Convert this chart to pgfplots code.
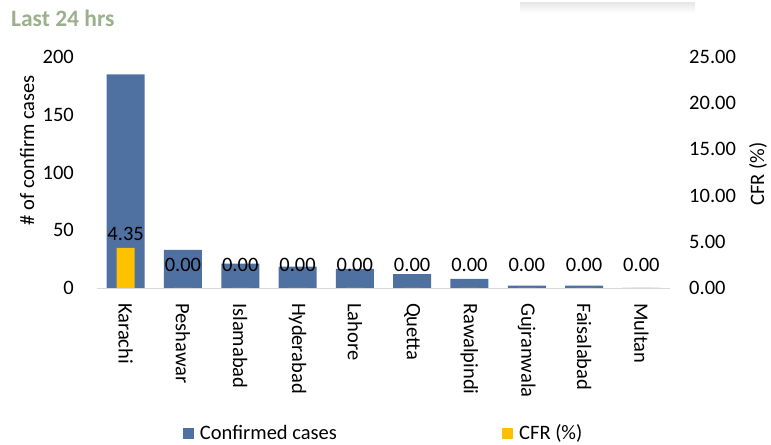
\documentclass[border=0pt]{standalone}
\usepackage{pgfplots}
\pgfplotsset{compat=1.18}
\usepackage{fontspec}
\setmainfont{Carlito}
\definecolor{barblue}{RGB}{79,113,161}
\definecolor{cfrorange}{RGB}{255,192,0}
\definecolor{titlegreen}{RGB}{155,176,140}
\definecolor{axisgray}{RGB}{217,217,217}
\newcommand{\fs}{\fontsize{20.5bp}{24bp}\selectfont}
\pgfplotsset{
  /pgf/number format/assume math mode=true,
  base/.style={
    at={(97bp,157bp)}, anchor=south west,
    scale only axis, width=573bp, height=231bp,
    xmin=-0.5, xmax=9.5, ymin=0,
    tick style={draw=none},
    ticklabel style={font=\fs, inner sep=0pt},
    label style={font=\fs},
    legend style={draw=none, fill=none, inner sep=1pt, font=\fs, legend cell align=left},
  },
}
\begin{document}
\begin{tikzpicture}[x=1bp,y=1bp]
\useasboundingbox (0,0) rectangle (771,445);
\shade[top color=black!9, bottom color=white] (520,442) rectangle (695,432);
\node[anchor=west, font=\fontsize{23.5bp}{27bp}\selectfont\bfseries, text=titlegreen, inner sep=0pt] at (11,427) {Last 24 hrs};

\begin{axis}[base,
  ymax=200, ytick={0,50,...,200},
  xtick={0,...,9},
  xticklabels={Karachi,Peshawar,Islamabad,Hyderabad,Lahore,Quetta,Rawalpindi,Gujranwala,Faisalabad,Multan},
  xticklabel style={rotate=-90, anchor=west},
  xticklabel shift=15bp,
  yticklabel shift=23bp,
  axis x line*=bottom, axis y line*=left,
  x axis line style={draw=axisgray, line width=0.8bp, -},
  y axis line style={draw=none},
  ylabel={\# of confirm cases},
  every axis y label/.style={at={(axis description cs:-0.122,0.597)}, rotate=90, anchor=center, font=\fs},
  legend style={at={(axis description cs:0.148,-0.628)}, anchor=west},
]
\addplot[ybar, bar width=38bp, bar shift=0pt, fill=barblue, draw=none,
  legend image code/.code={\fill[barblue] (0bp,-5.5bp) rectangle (11bp,5.5bp); \path (15bp,0bp);}]
  coordinates {(0,185) (1,33) (2,21) (3,18.5) (4,16.5) (5,12) (6,8) (7,2) (8,2) (9,0)};
\addlegendentry{Confirmed cases}
\end{axis}

\begin{axis}[base,
  ymax=25, ytick={0,5,...,25},
  xtick=\empty,
  yticklabel style={/pgf/number format/.cd, fixed, zerofill, precision=2},
  yticklabel shift=19bp,
  axis x line=none, axis y line*=right,
  y axis line style={draw=none},
  ylabel={CFR (\%)},
  every axis y label/.style={at={(axis description cs:1.1536,0.4935)}, rotate=90, anchor=center, font=\fs},
  legend style={at={(axis description cs:0.705,-0.628)}, anchor=west},
]
\addplot[ybar, bar width=18bp, bar shift=0pt, fill=cfrorange, draw=none,
  visualization depends on=rawy \as \rawy,
  nodes near coords,
  every node near coord/.append style={font=\fs, inner sep=0pt, anchor=south, text=black,
    /pgf/number format/fixed, /pgf/number format/zerofill, /pgf/number format/precision=2,
    yshift={6.7+9*(\rawy<0.01)}},
  legend image code/.code={\fill[cfrorange] (0bp,-5.5bp) rectangle (11bp,5.5bp); \path (15bp,0bp);}]
  coordinates {(0,4.35) (1,0) (2,0) (3,0) (4,0) (5,0) (6,0) (7,0) (8,0) (9,0)};
\addlegendentry{CFR (\%)}
\end{axis}
\end{tikzpicture}
\end{document}
